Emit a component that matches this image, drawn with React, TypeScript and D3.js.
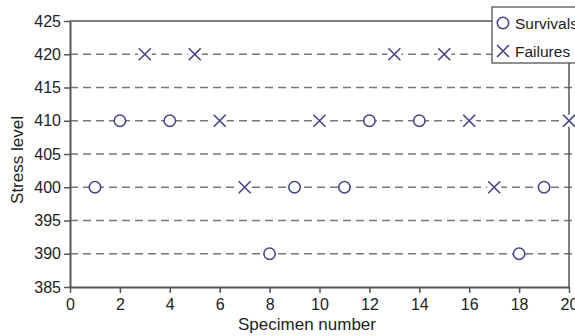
import React, { useEffect, useRef } from 'react';
import * as d3 from 'd3';

const survivalX = [1, 2, 4, 8, 9, 11, 12, 14, 18, 19];
const survivalY = [400, 410, 410, 390, 400, 400, 410, 410, 390, 400];
const failureX = [3, 5, 6, 7, 10, 13, 15, 16, 17, 20];
const failureY = [420, 420, 410, 400, 410, 420, 420, 410, 400, 410];
const xTicks = [0, 2, 4, 6, 8, 10, 12, 14, 16, 18, 20];
const yTicks = [385, 390, 395, 400, 405, 410, 415, 420, 425];
const gridLevels = [390, 395, 400, 405, 410, 415, 420];

const W = 575;
const H = 336;
const FONT = '"Liberation Sans", Arial, sans-serif';
const MARK = '#45458f';
const AXIS = '#555';

export default function App() {
  const svgRef = useRef<SVGSVGElement>(null);

  useEffect(() => {
    if (!svgRef.current) return;
    const svg = d3.select(svgRef.current);
    svg.selectAll('*').remove();

    const x = d3.scaleLinear().domain([0, 20]).range([70, 569]);
    const y = d3.scaleLinear().domain([385, 425]).range([287, 21]);

    // dashed grid
    svg.append('g')
      .selectAll('line')
      .data(gridLevels)
      .enter().append('line')
      .attr('x1', x(0)).attr('x2', W)
      .attr('y1', d => y(d)).attr('y2', d => y(d))
      .attr('stroke', '#777')
      .attr('stroke-width', 1.3)
      .attr('stroke-dasharray', '8,5');

    // frame
    svg.append('line')
      .attr('x1', x(0)).attr('x2', x(20))
      .attr('y1', y(425)).attr('y2', y(425))
      .attr('stroke', AXIS).attr('stroke-width', 1.5);
    svg.append('line')
      .attr('x1', x(20)).attr('x2', x(20))
      .attr('y1', y(425)).attr('y2', y(385))
      .attr('stroke', AXIS).attr('stroke-width', 1.5);

    const xAxis = svg.append('g')
      .attr('transform', `translate(0,${y(385)})`)
      .call(d3.axisBottom(x).tickValues(xTicks).tickSize(6).tickSizeOuter(0).tickPadding(6));
    const yAxis = svg.append('g')
      .attr('transform', `translate(${x(0)},0)`)
      .call(d3.axisLeft(y).tickValues(yTicks).tickSize(6).tickSizeOuter(0).tickPadding(3));

    [xAxis, yAxis].forEach(a => {
      a.select('.domain').attr('stroke', AXIS).attr('stroke-width', 2);
      a.selectAll('.tick line').attr('stroke', AXIS).attr('stroke-width', 1.5);
      a.selectAll('.tick text')
        .attr('fill', '#222')
        .style('font-family', FONT)
        .style('font-size', '16px');
    });

    // survivals
    svg.append('g')
      .selectAll('circle')
      .data(survivalX.map((v, i) => [v, survivalY[i]]))
      .enter().append('circle')
      .attr('cx', d => x(d[0]))
      .attr('cy', d => y(d[1]))
      .attr('r', 5.7)
      .attr('fill', 'white')
      .attr('stroke', MARK)
      .attr('stroke-width', 1.6);

    const cross = (g: d3.Selection<SVGGElement, unknown, null, undefined>, cx: number, cy: number) => {
      const s = 6;
      g.append('rect')
        .attr('x', cx - s - 1).attr('y', cy - s)
        .attr('width', 2 * s + 2).attr('height', 2 * s)
        .attr('fill', 'white');
      g.append('path')
        .attr('d', `M${cx - s},${cy - s}L${cx + s},${cy + s}M${cx - s},${cy + s}L${cx + s},${cy - s}`)
        .attr('stroke', MARK)
        .attr('stroke-width', 1.6)
        .attr('fill', 'none');
    };

    // failures
    const fg = svg.append('g');
    failureX.forEach((v, i) => cross(fg as any, x(v), y(failureY[i])));

    // legend
    const lg = svg.append('g');
    lg.append('rect')
      .attr('x', 492).attr('y', 7)
      .attr('width', 100).attr('height', 56)
      .attr('fill', 'white')
      .attr('stroke', AXIS)
      .attr('stroke-width', 1.3);
    lg.append('circle')
      .attr('cx', 503).attr('cy', 23).attr('r', 5.7)
      .attr('fill', 'white').attr('stroke', MARK).attr('stroke-width', 1.6);
    cross(lg as any, 503, 51);
    lg.append('text').attr('x', 515).attr('y', 28.5).text('Survivals')
      .style('font-family', FONT).style('font-size', '15.5px').attr('fill', '#222');
    lg.append('text').attr('x', 515).attr('y', 56.5).text('Failures')
      .style('font-family', FONT).style('font-size', '15.5px').attr('fill', '#222');

    // axis titles
    svg.append('text')
      .attr('x', 307).attr('y', 330)
      .attr('text-anchor', 'middle')
      .style('font-family', FONT).style('font-size', '17px').attr('fill', '#222')
      .text('Specimen number');
    svg.append('text')
      .attr('transform', `translate(23,${(y(385) + y(425)) / 2 + 6}) rotate(-90)`)
      .attr('text-anchor', 'middle')
      .style('font-family', FONT).style('font-size', '17px').attr('fill', '#222')
      .text('Stress level');
  }, []);

  return (
    <svg
      ref={svgRef}
      width={W}
      height={H}
      style={{ position: 'absolute', left: 0, top: 0, background: 'white' }}
    />
  );
}
